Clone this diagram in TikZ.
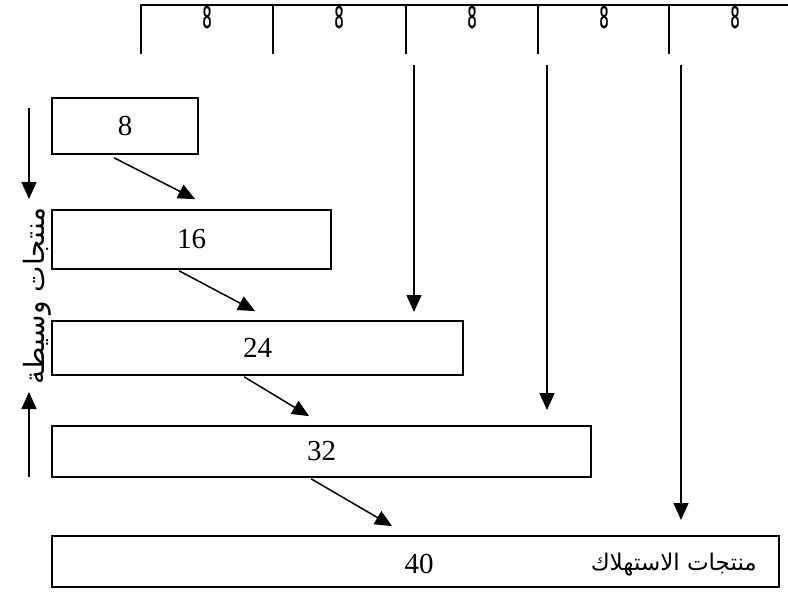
\documentclass[tikz,border=0pt]{standalone}
\usepackage{fontspec}
\setmainfont{Liberation Serif}
\newfontfamily\arabicfont[Script=Arabic]{DejaVu Sans}
\newfontfamily\narrowsans[FakeBold=1.2]{Liberation Sans}
\TeXXeTstate=1
\usetikzlibrary{arrows.meta}
\begin{document}
\begin{tikzpicture}[x=1pt,y=-1pt,
  box/.style={draw, line width=1.7pt, inner sep=0pt, font=\fontsize{29}{31}\selectfont},
  arr/.style={line width=1.5pt, -{Triangle[length=17pt,width=15pt]}},
  bar/.style={line width=2pt},
  toplab/.style={inner sep=0pt, font=\narrowsans\fontsize{32}{34}\selectfont},
  artext/.style={inner sep=0pt, font=\arabicfont\fontsize{23}{26}\selectfont}]
\useasboundingbox (0,0) rectangle (788,592);
% top bar
\coordinate (t0) at (141,54);
\coordinate (t1) at (273,54);
\coordinate (t2) at (406,54);
\coordinate (t3) at (538,54);
\coordinate (t4) at (669,54);
\coordinate (tr) at (790,5);
\draw[bar] (t0) |- (tr);
\draw[bar] (t1) -- (t1 |- tr);
\draw[bar] (t2) -- (t2 |- tr);
\draw[bar] (t3) -- (t3 |- tr);
\draw[bar] (t4) -- (t4 |- tr);
\node[toplab] (l1) at (207,17) {\scalebox{0.5}[1]{8}};
\node[toplab] (l2) at (339,17) {\scalebox{0.5}[1]{8}};
\node[toplab] (l3) at (472,17) {\scalebox{0.5}[1]{8}};
\node[toplab] (l4) at (604,17) {\scalebox{0.5}[1]{8}};
\node[toplab] (l5) at (735,17) {\scalebox{0.5}[1]{8}};
% boxes
\node[box, minimum width=146pt, minimum height=56pt] (b1) at (125,126) {8};
\node[box, minimum width=279pt, minimum height=59pt] (b2) at (191.5,239.5) {16};
\node[box, minimum width=411pt, minimum height=54pt] (b3) at (257.5,348) {24};
\node[box, minimum width=539pt, minimum height=51pt] (b4) at (321.5,451.5) {32};
\node[box, minimum width=727pt, minimum height=51pt] (b5) at (415.5,561.5) {};
\node[inner sep=0pt, font=\fontsize{29}{31}\selectfont] (n40) at (419,564) {40};
\node[artext, anchor=east] (cons) at (757,565) {\beginR منتجات الاستهلاك\endR};
% diagonal arrows
\draw[arr] ([xshift=63pt,yshift=-3pt]b1.south west) -- ([xshift=144pt,yshift=10pt]b2.north west);
\draw[arr] ([xshift=128pt,yshift=-1pt]b2.south west) -- ([xshift=204pt,yshift=9pt]b3.north west);
\draw[arr] ([xshift=193pt,yshift=-1pt]b3.south west) -- ([xshift=258pt,yshift=9pt]b4.north west);
\draw[arr] ([xshift=260pt,yshift=-1pt]b4.south west) -- ([xshift=341pt,yshift=9pt]b5.north west);
% vertical arrows
\coordinate (v1) at (414,65);
\coordinate (v2) at (547,65);
\coordinate (v3) at (681,65);
\coordinate (v1e) at (414,312);
\coordinate (v2e) at (547,410);
\coordinate (v3e) at (681,520);
\draw[arr] (v1) -- (v1e);
\draw[arr] (v2) -- (v2e);
\draw[arr] (v3) -- (v3e);
% left side
\coordinate (d1) at (29,108);
\coordinate (d1e) at (29,199);
\coordinate (u1) at (29,477);
\coordinate (u1e) at (29,392);
\draw[arr] (d1) -- (d1e);
\draw[arr] (u1) -- (u1e);
\node[artext, rotate=90, font=\arabicfont\fontsize{28}{30}\selectfont] (mid) at (37,296) {\beginR منتجات وسيطة\endR};
\end{tikzpicture}
\end{document}
